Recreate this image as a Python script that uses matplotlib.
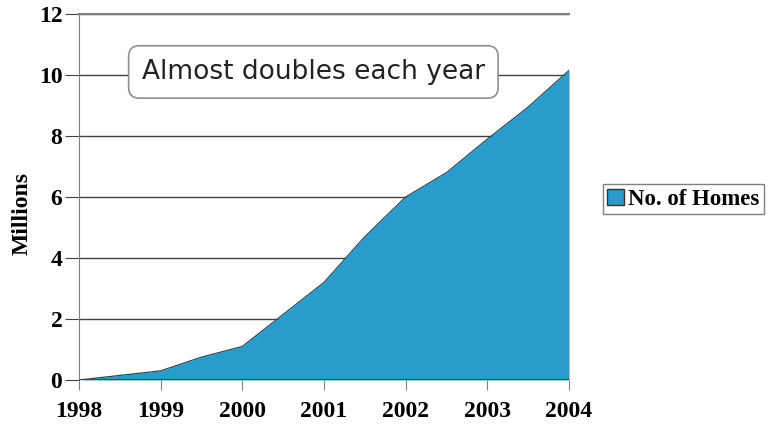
import matplotlib
matplotlib.use("Agg")
import matplotlib.pyplot as plt
from matplotlib.patches import Patch

# half-year readings, millions of homes
years = [1998, 1998.5, 1999, 1999.5, 2000, 2000.5, 2001, 2001.5,
         2002, 2002.5, 2003, 2003.5, 2004]
homes = [0, 0.15, 0.3, 0.75, 1.1, 2.15, 3.2, 4.7,
         6.0, 6.8, 7.9, 8.95, 10.15]
year_ticks = [1998, 1999, 2000, 2001, 2002, 2003, 2004]
y_ticks = [0, 2, 4, 6, 8, 10, 12]

fill_col = "#2a9ccb"
serif = ["Liberation Serif", "DejaVu Serif"]

fig = plt.figure(figsize=(7.7, 4.33), dpi=100)
ax = fig.add_axes([0.1026, 0.1224, 0.6364, 0.8453])

ax.fill_between(years, homes, 0, color=fill_col, lw=0, zorder=2)
ax.plot(years, homes, color="#404040", lw=0.9, zorder=3)

ax.set_xlim(1998, 2004)
ax.set_ylim(0, 12)
ax.set_xticks(year_ticks)
ax.set_yticks(y_ticks)
ax.set_xticklabels([str(y) for y in year_ticks], fontfamily=serif,
                   fontweight="bold", fontsize=17)
ax.set_yticklabels([str(v) for v in y_ticks], fontfamily=serif,
                   fontweight="bold", fontsize=17)
ax.tick_params(axis="x", length=7, color="#808080", pad=8)
ax.tick_params(axis="y", length=10, color="#404040", pad=2)

ax.grid(axis="y", color="#404040", lw=1.0, zorder=1)
for side in ["right", "bottom"]:
    ax.spines[side].set_visible(False)
ax.spines["top"].set_color("#808080")
ax.spines["top"].set_linewidth(1.5)
ax.spines["left"].set_color("#808080")
ax.axhline(0, color="#404040", lw=1.2, zorder=4)

ax.set_ylabel("Millions", fontfamily=serif, fontweight="bold", fontsize=17)
ax.yaxis.set_label_coords(-0.094, 0.456)

ax.text(2000.87, 10.1, "Almost doubles each year", fontsize=19,
        color="#222222", ha="center", va="center", zorder=5,
        bbox=dict(boxstyle="round,pad=0.5,rounding_size=0.4",
                  fc="white", ec="#909090", lw=1.2))

handles = [Patch(facecolor=fill_col, edgecolor="#333333", label="No. of Homes")]
fig.legend(handles=handles, loc="center left", bbox_to_anchor=(0.783, 0.540),
           prop=dict(family=serif, weight="bold", size=16.5),
           frameon=True, fancybox=False, edgecolor="#606060",
           handlelength=0.7, handleheight=0.7, handletextpad=0.2,
           borderpad=0.2, borderaxespad=0)

fig.savefig("out.png", dpi=100)
